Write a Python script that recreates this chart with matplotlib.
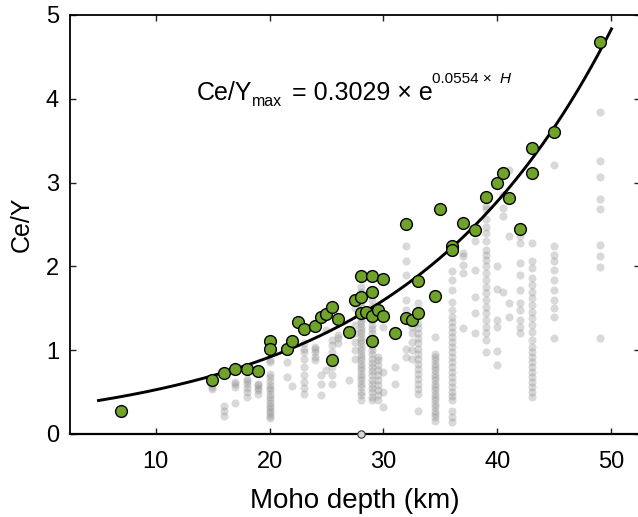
import numpy as np
import matplotlib
matplotlib.use('Agg')
import matplotlib.pyplot as plt

plt.rcParams['font.family'] = ['Liberation Sans', 'DejaVu Sans']

# samples on the Ce/Y max envelope (Moho depth in km, Ce/Y)
green_depth = [7, 15, 16, 17, 18, 19, 20, 20, 21.5, 22, 22.5, 23, 24, 24.5, 25,
               25.5, 26, 25.5, 27, 27.5, 28, 28, 29, 30, 29, 28, 28.5, 29, 29.5,
               30, 29, 31, 32, 32, 32.5, 33, 33, 34.5, 35, 36, 36, 37, 38, 39,
               40, 40.5, 41, 42, 43, 43, 45, 49]
green_ratio = [0.27, 0.65, 0.73, 0.77, 0.78, 0.75, 1.11, 1.01, 1.01, 1.11, 1.34,
               1.25, 1.29, 1.40, 1.43, 1.52, 1.37, 0.88, 1.22, 1.60, 1.63, 1.89,
               1.88, 1.85, 1.69, 1.44, 1.45, 1.41, 1.48, 1.41, 1.11, 1.20, 2.51,
               1.38, 1.36, 1.44, 1.83, 1.65, 2.68, 2.24, 2.19, 2.52, 2.44, 2.83,
               2.99, 3.11, 2.82, 2.45, 3.41, 3.11, 3.60, 4.68]

# all samples, one column of Ce/Y values per Moho depth
grey_depth = [15, 16, 17, 18, 19, 20, 21.5, 22, 23, 24, 24.5, 25, 25.5, 26, 27,
              27.5, 28, 29, 29.5, 30, 31, 32, 32.5, 33, 34.5, 36, 37, 38, 39,
              40, 40.5, 41, 42, 43, 45, 49]
grey_ratio = [
    [0.54, 0.56, 0.60],
    [0.22, 0.28, 0.33],
    [0.37, 0.56, 0.60, 0.62],
    [0.44, 0.50, 0.55, 0.60, 0.63, 0.66],
    [0.48, 0.52, 0.55, 0.58, 0.60],
    [0.19, 0.22, 0.25, 0.28, 0.31, 0.34, 0.37, 0.40, 0.44, 0.48, 0.52, 0.55,
     0.58, 0.63, 0.68, 0.72, 0.86, 0.88],
    [0.68, 0.86],
    [0.57],
    [0.48, 0.55, 0.62, 0.70, 0.80, 0.90, 0.98, 1.02, 1.08],
    [0.88, 0.92, 0.98, 1.02, 1.04],
    [0.46, 0.60, 0.70],
    [0.76, 1.24],
    [0.60, 0.70, 0.80, 0.90, 0.98, 1.06, 1.12],
    [1.08, 1.14, 1.18],
    [0.64],
    [0.90, 1.00, 1.10, 1.20, 1.30, 1.50],
    [0.40, 0.46, 0.50, 0.56, 0.60, 0.64, 0.68, 0.72, 0.76, 0.80, 0.84, 0.88,
     0.92, 0.96, 1.00, 1.04, 1.08, 1.12, 1.16, 1.20, 1.24, 1.28, 1.32, 1.36,
     1.40, 1.46, 1.52, 1.58, 1.64, 1.70, 1.76],
    [0.40, 0.44, 0.50, 0.55, 0.60, 0.65, 0.70, 0.75, 0.80, 0.85, 0.90, 0.95,
     1.00, 1.05, 1.10, 1.15, 1.20, 1.25, 1.30, 1.36, 1.44, 1.52, 1.60],
    [0.40, 0.46, 0.52, 0.58, 0.64, 0.70, 0.76, 0.82, 0.88, 0.92],
    [0.32, 0.50, 0.74, 1.28],
    [0.60, 0.80],
    [0.92, 1.02, 1.48, 1.60, 1.90, 2.06, 2.24],
    [0.90, 1.00, 1.10, 1.20, 1.28],
    [0.28, 0.48, 0.54, 0.60, 0.66, 0.72, 0.78, 0.84, 0.90, 0.96, 1.02, 1.08,
     1.14, 1.20, 1.26, 1.32, 1.56],
    [0.16, 0.20, 0.24, 0.28, 0.32, 0.36, 0.40, 0.44, 0.48, 0.52, 0.56, 0.60,
     0.64, 0.68, 0.72, 0.76, 0.80, 0.84, 0.88, 0.92, 0.96, 1.16],
    [0.14, 0.20, 0.28, 0.40, 0.45, 0.50, 0.56, 0.62, 0.68, 0.74, 0.80, 0.86,
     0.92, 0.98, 1.04, 1.10, 1.16, 1.22, 1.28, 1.34, 1.40, 1.48, 1.58, 1.72,
     1.84, 1.94],
    [1.26, 1.92, 2.02, 2.12, 2.16],
    [1.20, 1.44, 1.64, 1.96, 2.30],
    [0.98, 1.12, 1.20, 1.28, 1.36, 1.44, 1.52, 1.60, 1.68, 1.76, 1.84, 1.92,
     2.00, 2.08, 2.14, 2.20, 2.30, 2.40, 2.47, 2.56, 2.68, 2.72],
    [0.82, 0.99, 1.28, 1.36, 1.73, 2.00],
    [1.69, 2.60, 2.70, 2.85],
    [1.40, 1.56, 2.36, 3.15],
    [1.20, 1.28, 1.36, 1.48, 1.56, 1.72, 1.90, 2.04, 2.28, 2.36],
    [0.44, 0.50, 0.56, 0.62, 0.68, 0.74, 0.80, 0.86, 0.92, 0.98, 1.04, 1.12,
     1.22, 1.30, 1.38, 1.46, 1.54, 1.62, 1.70, 1.78, 1.86, 1.98, 2.06, 2.28],
    [1.14, 1.40, 1.50, 1.60, 1.72, 1.84, 1.96, 2.06, 2.14, 2.24, 3.21],
    [1.14, 1.99, 2.12, 2.25, 2.68, 2.81, 3.07, 3.26, 3.84],
]

# the lone open sample sitting on the x axis
zero_depth = [28]
zero_ratio = [0.0]

# Ce/Y max = a * exp(b * H)
fit_a = 0.3029
fit_b = 0.0554
fit_start, fit_end = 5, 50

W, H_px = 638, 517
fig = plt.figure(figsize=(W / 100, H_px / 100), dpi=100)
ax = fig.add_axes([70 / W, (H_px - 434) / H_px, 570 / W, 419 / H_px])

gx = [d for d, col in zip(grey_depth, grey_ratio) for _ in col]
gy = [v for col in grey_ratio for v in col]
ax.scatter(gx, gy, s=34, color='#8c8c8c', alpha=0.33, linewidths=0, zorder=1)

hh = np.linspace(fit_start, fit_end, 300)
ax.plot(hh, fit_a * np.exp(fit_b * hh), color='black', lw=2.1, zorder=2)

ax.scatter(green_depth, green_ratio, s=72, color='#70a32a', edgecolors='black',
           linewidths=1.0, zorder=3)
ax.scatter(zero_depth, zero_ratio, s=28, color='#d6d6d6', edgecolors='#333333',
           linewidths=0.8, zorder=5, clip_on=False)

ax.set_xlim(2.5, 52.5)
ax.set_ylim(0, 5)
ax.set_xticks([10, 20, 30, 40, 50])
ax.set_yticks([0, 1, 2, 3, 4, 5])

for s in ax.spines.values():
    s.set_linewidth(1.3)
ax.spines['bottom'].set_linewidth(1.6)
ax.spines['right'].set_visible(False)  # sits just past the image edge in the original

ax.tick_params(direction='in', top=True, right=True, length=4.5, width=1,
               labelsize=17, color='#222222')
ax.tick_params(axis='x', pad=12)
ax.tick_params(axis='y', pad=8)

ax.set_xlabel('Moho depth (km)', fontsize=20)
ax.xaxis.label.set_va('baseline')
ax.xaxis.set_label_coords(0.5, (434 - 508) / 419)
ax.set_ylabel('Ce/Y', fontsize=18)
ax.yaxis.label.set_va('baseline')
ax.yaxis.set_label_coords((29 - 70) / 570, 0.5)

# equation, assembled piece by piece (pixel positions of each baseline)
def put(txt, x, y, size, **kw):
    fig.text(x / W, 1 - y / H_px, txt, fontsize=size, ha='left', va='baseline', **kw)

put('Ce/Y', 197, 100, 18)
put('max', 252, 105.5, 11.5)
put('= 0.3029 × e', 292, 100, 18)
put('0.0554 ×', 432, 83, 11)
put('H', 500, 83, 11, style='italic')

fig.savefig('out.png', dpi=100)
